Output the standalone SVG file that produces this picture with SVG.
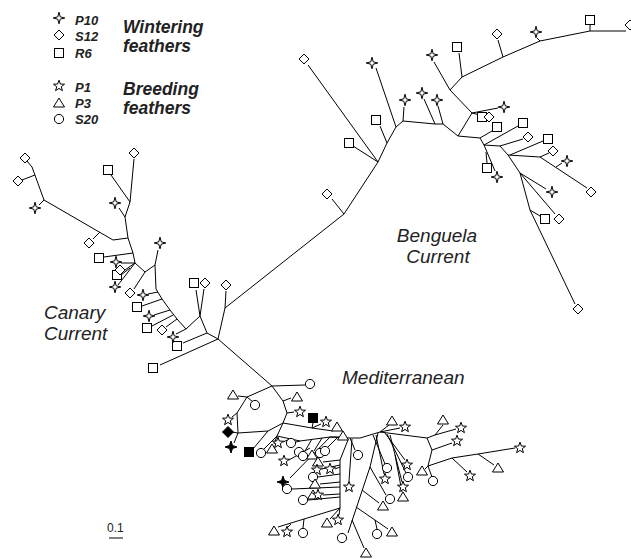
<svg xmlns="http://www.w3.org/2000/svg" width="631" height="559" viewBox="0 0 631 559">
<style>
.e{stroke:#000;stroke-width:1;fill:none;stroke-linejoin:round}
.o{fill:#fff;stroke:#000;stroke-width:1}
.f{fill:#000;stroke:#000;stroke-width:1}
.lg{font-family:"Liberation Sans",Arial,sans-serif;font-weight:bold;font-style:italic;font-size:13px;fill:#222}
.lb{font-family:"Liberation Sans",Arial,sans-serif;font-weight:bold;font-style:italic;font-size:17.5px;fill:#222}
.rg{font-family:"Liberation Sans",Arial,sans-serif;font-style:italic;font-size:19px;fill:#222}
.sc{font-family:"Liberation Sans",Arial,sans-serif;font-size:12px;fill:#222}
</style>
<defs>
<path id="s4" class="o" d="M0,-5.8 L1.2,-1.2 L5.8,0 L1.2,1.2 L0,5.8 L-1.2,1.2 L-5.8,0 L-1.2,-1.2Z"/>
<path id="fs4" class="f" d="M0,-6 L1.5,-1.5 L6,0 L1.5,1.5 L0,6 L-1.5,1.5 L-6,0 L-1.5,-1.5Z"/>
<path id="dm" class="o" d="M0,-5 L5,0 L0,5 L-5,0Z"/>
<path id="fdm" class="f" d="M0,-5.5 L5.5,0 L0,5.5 L-5.5,0Z"/>
<rect id="sq" class="o" x="-4.5" y="-4.5" width="9" height="9"/>
<rect id="fsq" class="f" x="-4.5" y="-4.5" width="9" height="9"/>
<path id="s5" class="o" d="M0,-5.8 L1.41,-1.94 L5.52,-1.79 L2.28,0.74 L3.41,4.69 L0,2.4 L-3.41,4.69 L-2.28,0.74 L-5.52,-1.79 L-1.41,-1.94Z"/>
<path id="tr" class="o" d="M0,-5 L5.5,4 L-5.5,4Z"/>
<circle id="ci" class="o" r="4.6"/>
</defs>

<g id="connectors" class="e">
<!-- Benguela -->
<path d="M218,339 L225,308 L344,214 L378,162 L387,143 L396,127 L403,121 L435,124 L443,124 L458,136 L472,113 L450,90 L462,77 L503,57 L540,41 L590,31 L626,31"/>
<path d="M225,308 L226,291 M344,214 L332,199 M378,162 L353,146 M378,162 L308,65 M387,143 L380,126 M396,127 L376,68 M403,121 L404,107 M435,124 L424,99 M443,124 L438,106 M472,113 L498,108 M472,113 L484,116 M450,90 L434,62 M462,77 L459,53 M503,57 L498,40 M540,41 L537,38 M590,31 L590,25"/>
<path d="M458,136 L480,138 L484,145 L500,146 L508,155 L520,173 L530,210 L575,304"/>
<path d="M480,138 L492,131 M484,145 L518,126 M484,145 L495,171 M486,152 L487,163 M500,146 L523,139 M508,155 L540,157 L587,188 M510,155 L543,141 M540,157 L549,153 M556,167 L562,163 M520,173 L546,189 M520,173 L555,214 M530,210 L540,216"/>
<!-- Canary -->
<path d="M218,339 L207,333 L200,316 M218,339 L160,365 M207,333 L183,343 M200,316 L196,290 M200,316 L204,289"/>
<path d="M200,316 L186,329 L177,319 L170,310 L162,299 L156,289 L155,265 L145,272 L135,263 L133,253 L128,238 L125,217 L130,202 L134,159"/>
<path d="M186,329 L176,334 M177,319 L166,327 M173,315 L152,326 M170,310 L154,315 M162,299 L142,306 M158,292 L148,294 M155,265 L158,250 M145,272 L134,289 M135,263 L121,263 M135,263 L125,270 M135,263 L118,285 M130,268 L121,275 M133,253 L104,257"/>
<path d="M128,238 L113,240 L44,200 M100,232 L93,239 M44,200 L39,205 M44,200 L32,167 L27,161 M35,175 L22,180 M125,217 L119,208 M130,202 L111,175"/>
<!-- Mediterranean -->
<path d="M218,339 L272,386 L305,385 M272,386 L247,397 L238,396 M247,397 L253,402 M247,397 L237,413 L238,433 M237,413 L232,417 M238,433 L232,432 M238,433 L234,443 M238,433 L268,431 L283,423 M268,431 L253,449"/>
<path d="M272,386 L283,401 L287,413 L283,423 L277,436 M283,401 L291,398 M287,413 L294,412 M283,423 L312,428 M312,428 L313,423 M312,428 L321,424 M312,428 L333,431 M277,436 L264,449 M277,436 L274,444 M290,439 L283,442"/>
<path d="M277,436 L300,441 L330,437 L350,438 L360,438 L380,432 L427,438"/>
<path d="M300,441 L296,442 M330,437 L339,437 M312,439 L305,451 M322,438 L314,451 M338,437 L327,448 M330,437 L290,478 M310,448 L289,460 M348,440 L340,460 L340,508 M350,438 L355,450 M352,439 L349,481"/>
<path d="M340,460 L323,462 M340,465 L322,469 M340,467 L335,469 M340,474 L318,477 M340,482 L320,484 M340,487 L292,489 M340,494 L323,495 M340,497 L308,500 M340,508 L278,527 M291,524 L288,527 M304,519 L303,528 M340,508 L330,519 M340,508 L339,515"/>
<path d="M380,432 L389,425 M380,432 L400,428 M373,435 L385,464 M376,435 L384,474 M385,433 L405,460 M387,434 L406,473 M390,435 L402,482 M395,455 L402,492"/>
<path d="M378,433 L370,467 L348,533 M370,467 L386,495 M362,490 L379,503 M356,507 L388,529 M375,520 L377,529 M352,520 L364,548"/>
<path d="M427,438 L435,435 L443,425 M435,435 L456,429 M427,438 L432,450 L452,443 M432,450 L428,466 L425,469 M428,466 L432,477 M428,466 L452,458 L478,454 L515,448 M452,458 L467,472 M478,454 L494,465"/>
<!-- scale bar -->
<path d="M109,538 L123,538"/>
</g>

<g id="legend">
<use id="lg-p10" href="#s4" x="59" y="18"/>
<use id="lg-s12" href="#dm" x="59" y="35"/>
<use id="lg-r6" href="#sq" x="59" y="53"/>
<use id="lg-p1" href="#s5" x="59" y="86"/>
<use id="lg-p3" href="#tr" x="59" y="103"/>
<use id="lg-s20" href="#ci" x="59" y="119"/>
<text class="lg" x="75" y="25">P10</text>
<text class="lg" x="75" y="41">S12</text>
<text class="lg" x="75" y="57.5">R6</text>
<text class="lg" x="75" y="92">P1</text>
<text class="lg" x="75" y="108">P3</text>
<text class="lg" x="75" y="124">S20</text>
<text class="lb" x="123" y="33">Wintering</text>
<text class="lb" x="123" y="52">feathers</text>
<text class="lb" x="123" y="95">Breeding</text>
<text class="lb" x="123" y="114">feathers</text>
</g>

<g id="benguela">
<use id="b1" href="#dm" x="226" y="285"/>
<use id="b2" href="#dm" x="327" y="194"/>
<use id="b3" href="#sq" x="349" y="143"/>
<use id="b4" href="#dm" x="304" y="59"/>
<use id="b5" href="#sq" x="376" y="120"/>
<use id="b6" href="#s4" x="372" y="63"/>
<use id="b7" href="#s4" x="405" y="100"/>
<use id="b8" href="#s4" x="422" y="93"/>
<use id="b9" href="#s4" x="437" y="100"/>
<use id="b10" href="#s4" x="504" y="107"/>
<use id="b11" href="#sq" x="482" y="117"/>
<use id="b12" href="#dm" x="489" y="117"/>
<use id="b13" href="#s4" x="432" y="55"/>
<use id="b14" href="#sq" x="457" y="47"/>
<use id="b15" href="#dm" x="497" y="34"/>
<use id="b16" href="#s4" x="536" y="32"/>
<use id="b17" href="#sq" x="590" y="20"/>
<use id="b18" href="#dm" x="630" y="25"/>
<use id="b19" href="#sq" x="497" y="127"/>
<use id="b20" href="#sq" x="523" y="123"/>
<use id="b21" href="#sq" x="487" y="168"/>
<use id="b22" href="#s4" x="497" y="177"/>
<use id="b23" href="#dm" x="528" y="137"/>
<use id="b24" href="#sq" x="548" y="139"/>
<use id="b25" href="#dm" x="553" y="151"/>
<use id="b26" href="#dm" x="591" y="192"/>
<use id="b27" href="#s4" x="567" y="161"/>
<use id="b28" href="#s4" x="552" y="192"/>
<use id="b29" href="#dm" x="559" y="219"/>
<use id="b30" href="#sq" x="545" y="219"/>
<use id="b31" href="#dm" x="578" y="309"/>
</g>

<g id="canary">
<use id="c1" href="#sq" x="153" y="368"/>
<use id="c2" href="#sq" x="177" y="346"/>
<use id="c3" href="#sq" x="194" y="283"/>
<use id="c4" href="#dm" x="205" y="283"/>
<use id="c5" href="#s4" x="173" y="337"/>
<use id="c6" href="#dm" x="162" y="330"/>
<use id="c7" href="#sq" x="147" y="328"/>
<use id="c8" href="#s4" x="149" y="316"/>
<use id="c9" href="#sq" x="137" y="307"/>
<use id="c10" href="#s4" x="143" y="295"/>
<use id="c11" href="#s4" x="160" y="243"/>
<use id="c12" href="#dm" x="130" y="293"/>
<use id="c13" href="#sq" x="117" y="275"/>
<use id="c14" href="#s4" x="116" y="262"/>
<use id="c15" href="#dm" x="120" y="270"/>
<use id="c16" href="#s4" x="115" y="287"/>
<use id="c17" href="#sq" x="99" y="258"/>
<use id="c18" href="#dm" x="89" y="243"/>
<use id="c19" href="#s4" x="35" y="208"/>
<use id="c20" href="#dm" x="25" y="158"/>
<use id="c21" href="#dm" x="18" y="181"/>
<use id="c22" href="#s4" x="115" y="203"/>
<use id="c23" href="#sq" x="108" y="170"/>
<use id="c24" href="#dm" x="134" y="153"/>
</g>

<g id="mediterranean">
<use id="m1" href="#ci" x="310" y="384"/>
<use id="m2" href="#tr" x="233" y="395"/>
<use id="m3" href="#ci" x="255" y="405"/>
<use id="m4" href="#s5" x="228" y="420"/>
<use id="m5" href="#fdm" x="228" y="432"/>
<use id="m6" href="#fs4" x="231" y="447"/>
<use id="m7" href="#fsq" x="249" y="452"/>
<use id="m8" href="#ci" x="261" y="453"/>
<use id="m9" href="#tr" x="272" y="449"/>
<use id="m10" href="#s5" x="278" y="443"/>
<use id="m11" href="#ci" x="291" y="443"/>
<use id="m12" href="#tr" x="297" y="397"/>
<use id="m13" href="#s5" x="300" y="412"/>
<use id="m14" href="#fsq" x="313" y="418"/>
<use id="m15" href="#s5" x="326" y="422"/>
<use id="m16" href="#tr" x="337" y="427"/>
<use id="m17" href="#tr" x="343" y="436"/>
<use id="m18" href="#ci" x="299" y="452"/>
<use id="m19" href="#ci" x="303" y="456"/>
<use id="m20" href="#tr" x="312" y="455"/>
<use id="m21" href="#ci" x="320" y="453"/>
<use id="m22" href="#ci" x="325" y="451"/>
<use id="m23" href="#ci" x="358" y="455"/>
<use id="m24" href="#s5" x="284" y="461"/>
<use id="m25" href="#tr" x="318" y="462"/>
<use id="m26" href="#s5" x="317" y="470"/>
<use id="m27" href="#s5" x="330" y="469"/>
<use id="m28" href="#ci" x="313" y="477"/>
<use id="m29" href="#tr" x="315" y="484"/>
<use id="m30" href="#fs4" x="283" y="482"/>
<use id="m31" href="#ci" x="287" y="489"/>
<use id="m32" href="#s5" x="349" y="487"/>
<use id="m33" href="#ci" x="303" y="500"/>
<use id="m34" href="#tr" x="313" y="495"/>
<use id="m35" href="#s5" x="318" y="495"/>
<use id="m36" href="#tr" x="274" y="531"/>
<use id="m37" href="#s5" x="287" y="532"/>
<use id="m38" href="#ci" x="303" y="533"/>
<use id="m39" href="#tr" x="327" y="523"/>
<use id="m40" href="#s5" x="338" y="520"/>
<use id="m41" href="#ci" x="342" y="538"/>
<use id="m42" href="#tr" x="392" y="421"/>
<use id="m43" href="#s5" x="405" y="427"/>
<use id="m44" href="#tr" x="443" y="420"/>
<use id="m45" href="#s5" x="461" y="428"/>
<use id="m46" href="#s5" x="457" y="441"/>
<use id="m47" href="#s5" x="520" y="448"/>
<use id="m48" href="#tr" x="422" y="471"/>
<use id="m49" href="#ci" x="433" y="481"/>
<use id="m50" href="#s5" x="470" y="476"/>
<use id="m51" href="#tr" x="498" y="468"/>
<use id="m52" href="#ci" x="387" y="468"/>
<use id="m53" href="#s5" x="385" y="479"/>
<use id="m54" href="#s5" x="407" y="465"/>
<use id="m55" href="#ci" x="408" y="477"/>
<use id="m56" href="#s5" x="403" y="487"/>
<use id="m57" href="#tr" x="403" y="497"/>
<use id="m58" href="#ci" x="390" y="499"/>
<use id="m59" href="#tr" x="383" y="506"/>
<use id="m60" href="#ci" x="377" y="534"/>
<use id="m61" href="#tr" x="392" y="532"/>
<use id="m62" href="#tr" x="366" y="553"/>
</g>

<g id="labels">
<text class="rg" x="437" y="242" text-anchor="middle">Benguela</text>
<text class="rg" x="438" y="263" text-anchor="middle">Current</text>
<text class="rg" x="44" y="319">Canary</text>
<text class="rg" x="44" y="340">Current</text>
<text class="rg" x="342" y="384">Mediterranean</text>
<text class="sc" x="107" y="532">0.1</text>
</g>
</svg>
